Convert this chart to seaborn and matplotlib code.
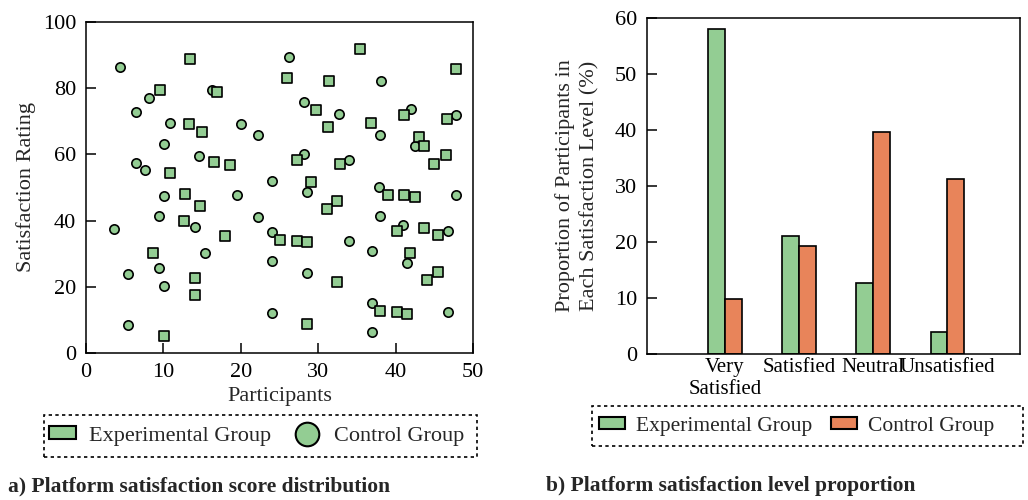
import pandas as pd
import seaborn as sns
import matplotlib.pyplot as plt
from matplotlib.patches import Patch, Rectangle
from matplotlib.lines import Line2D

# scatter data read off panel a)
exp_x = [13.4, 9.6, 16.9, 13.3, 15.0, 16.5, 10.9, 26.0, 31.4, 29.7,
         31.2, 27.3, 18.6, 35.4, 47.8, 41.1, 46.6, 36.8, 43.0, 43.7,
         46.5, 45.0, 32.8, 12.8, 14.7, 12.6, 8.7, 14.1, 14.1, 10.1,
         18.0, 29.1, 32.4, 31.1, 25.1, 27.3, 28.6, 32.4, 28.6, 39.0,
         41.1, 42.5, 40.2, 43.7, 45.5, 41.9, 45.5, 44.0, 38.0, 40.2, 41.5]
exp_y = [88.8, 79.5, 78.9, 69.2, 66.8, 57.6, 54.5, 83.1, 82.1, 73.3,
         68.3, 58.3, 56.8, 91.7, 85.9, 72.0, 70.6, 69.5, 65.4, 62.5,
         59.7, 57.2, 57.2, 47.9, 44.4, 39.9, 30.1, 22.8, 17.6, 5.2,
         35.3, 51.6, 45.8, 43.6, 34.0, 33.9, 33.4, 21.3, 8.9, 47.7,
         47.6, 47.2, 37.0, 37.8, 35.6, 30.3, 24.5, 22.0, 12.6, 12.3, 11.9]

ctrl_x = [4.4, 6.4, 8.1, 10.9, 10.1, 14.6, 6.4, 7.6, 16.3, 26.2,
          28.2, 32.7, 20.0, 22.2, 28.2, 38.1, 42.0, 47.8, 38.0, 42.5,
          34.0, 10.1, 9.4, 14.1, 3.6, 15.4, 9.4, 5.4, 10.1, 5.4,
          24.0, 28.6, 19.5, 22.2, 24.0, 24.0, 28.6, 24.0, 37.9, 47.8,
          38.0, 41.0, 46.8, 34.0, 36.9, 41.5, 36.9, 46.8, 36.9]
ctrl_y = [86.4, 72.9, 76.9, 69.5, 63.0, 59.6, 57.4, 55.2, 79.5, 89.4,
          75.8, 72.2, 69.3, 65.9, 60.2, 82.1, 73.7, 72.0, 65.8, 62.5,
          58.4, 47.4, 41.5, 38.0, 37.5, 30.1, 25.8, 23.8, 20.3, 8.4,
          52.1, 48.7, 47.8, 41.2, 36.6, 27.7, 24.2, 12.0, 50.3, 47.6,
          41.3, 38.8, 37.0, 33.8, 30.7, 27.2, 15.1, 12.3, 6.2]

# bar data read off panel b)
levels = ["Very\nSatisfied", "Satisfied", "Neutral", "Unsatisfied"]
exp_pct = [58.0, 21.0, 12.7, 3.9]
ctrl_pct = [9.9, 19.2, 39.6, 31.2]
groups = ["Experimental Group", "Control Group"]

green = "#93cd93"
orange = "#e8845a"
fs = 16

sns.set_style("ticks")
plt.rcParams['font.family'] = ['Liberation Serif', 'DejaVu Serif']
plt.rcParams['xtick.direction'] = 'in'
plt.rcParams['ytick.direction'] = 'in'
plt.rcParams['axes.edgecolor'] = 'black'
plt.rcParams['axes.linewidth'] = 1.1

fig = plt.figure(figsize=(10.28, 5), dpi=100)

# a) scatter
ax1 = fig.add_axes([0.0837, 0.294, 0.3765, 0.662])
sns.scatterplot(x=ctrl_x, y=ctrl_y, marker='o', s=45, color=green,
                edgecolor='black', linewidth=1.2, ax=ax1, zorder=3)
sns.scatterplot(x=exp_x, y=exp_y, marker='s', s=55, color=green,
                edgecolor='black', linewidth=1.2, ax=ax1, zorder=3)
ax1.set_xlim(0, 50)
ax1.set_ylim(0, 100)
ax1.set_xticks(range(0, 51, 10))
ax1.set_yticks(range(0, 101, 20))
ax1.tick_params(labelsize=fs, length=7, width=1.1, colors='black', pad=7)
ax1.set_xlabel("Participants", fontsize=fs, labelpad=4)
ax1.set_ylabel("Satisfaction Rating", fontsize=fs, labelpad=5)

# dotted boxes around the legends
for box in [(44, 415, 433, 42), (592, 406, 431, 40)]:
    x, y, w, h = box
    fig.patches.append(Rectangle((x / 1028, 1 - (y + h) / 500), w / 1028, h / 500,
                                 transform=fig.transFigure, fill=False,
                                 edgecolor='black', linewidth=1.2,
                                 linestyle=(0, (2, 2))))

h1 = [Patch(facecolor=green, edgecolor='black', linewidth=1.5, label=groups[0]),
      Line2D([], [], marker='o', linestyle='none', markersize=17,
             markerfacecolor=green, markeredgecolor='black',
             markeredgewidth=1.5, label=groups[1])]
fig.legend(handles=h1, loc='center', ncol=2, bbox_to_anchor=(0.2495, 0.128),
           fontsize=fs, frameon=False, handlelength=1.2, handleheight=0.5,
           borderaxespad=0, columnspacing=1.0, handletextpad=0.6)

# b) grouped bars
df = pd.DataFrame({
    "level": levels * 2,
    "group": [groups[0]] * 4 + [groups[1]] * 4,
    "pct": exp_pct + ctrl_pct,
})
ax2 = fig.add_axes([0.6294, 0.292, 0.3628, 0.672])
sns.barplot(data=df, x="level", y="pct", hue="group", palette=[green, orange],
            saturation=1, width=0.45, edgecolor='black', linewidth=1.2,
            legend=False, ax=ax2)
ax2.set_xlim(-1.05, 3.98)
ax2.set_ylim(0, 60)
ax2.set_yticks(range(0, 61, 10))
ax2.tick_params(axis='y', labelsize=fs, length=7, width=1.1, colors='black', pad=7)
ax2.tick_params(axis='x', labelsize=15, length=0, colors='black', pad=3)
ax2.set_xlabel("")
ax2.set_ylabel("Proportion of Participants in\nEach Satisfaction Level (%)",
               fontsize=fs, labelpad=11, linespacing=1.4)

h2 = [Patch(facecolor=green, edgecolor='black', linewidth=1.5, label=groups[0]),
      Patch(facecolor=orange, edgecolor='black', linewidth=1.5, label=groups[1])]
fig.legend(handles=h2, loc='center', ncol=2, bbox_to_anchor=(0.7748, 0.148),
           fontsize=15.5, frameon=False, handlelength=1.2, handleheight=0.5,
           borderaxespad=0, columnspacing=0.9, handletextpad=0.5)

fig.text(0.008, 0.018, "a) Platform satisfaction score distribution",
         fontsize=15.5, fontweight='bold', va='baseline')
fig.text(0.531, 0.018, "b) Platform satisfaction level proportion",
         fontsize=15.5, fontweight='bold', va='baseline')

fig.savefig("out.png", dpi=100)
